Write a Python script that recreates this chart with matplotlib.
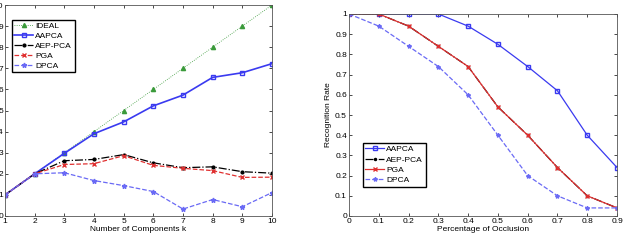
import numpy as np
import matplotlib
matplotlib.use("Agg")
import matplotlib.pyplot as plt

plt.rcParams['font.family'] = ['Liberation Sans', 'DejaVu Sans']
plt.rcParams['font.size'] = 6

# left panel: number of components
k = [1, 2, 3, 4, 5, 6, 7, 8, 9, 10]
ideal = [1, 2, 3, 4, 5, 6, 7, 8, 9, 10]
aapca_k = [1, 2, 2.97, 3.9, 4.46, 5.22, 5.73, 6.57, 6.79, 7.22]
aeppca_k = [1, 2, 2.62, 2.68, 2.91, 2.52, 2.29, 2.33, 2.1, 2.03]
pga_k = [1, 2, 2.44, 2.48, 2.86, 2.4, 2.26, 2.15, 1.83, 1.84]
dpca_k = [1, 2, 2.05, 1.68, 1.44, 1.16, 0.33, 0.78, 0.44, 1.11]

# right panel: percentage of occlusion
occ = [0, 0.1, 0.2, 0.3, 0.4, 0.5, 0.6, 0.7, 0.8, 0.9]
aapca_o = [1, 1, 1, 1, 0.94, 0.85, 0.74, 0.62, 0.40, 0.24]
aeppca_o = [1, 1, 0.94, 0.84, 0.74, 0.54, 0.40, 0.24, 0.10, 0.04]
pga_o = [1, 1, 0.94, 0.84, 0.74, 0.54, 0.40, 0.24, 0.10, 0.04]
dpca_o = [1, 0.94, 0.84, 0.74, 0.60, 0.40, 0.20, 0.10, 0.04, 0.04]

blue = '#3a3af0'
lblue = '#6a6af5'
green = '#3a9a3a'
red = '#e03030'

fig = plt.figure(figsize=(6.29, 2.4), dpi=100)
ax1 = fig.add_axes([5/629, 1 - 216/240, 267/629, 211/240])
ax2 = fig.add_axes([349/629, 1 - 216/240, 268/629, 202/240])

ax1.plot(k, ideal, ':', color=green, lw=0.6, marker='^', ms=3, label='IDEAL')
ax1.plot(k, aapca_k, '-', color=blue, lw=1.2, marker='s', ms=3.5, mfc='none', label='AAPCA')
ax1.plot(k, aeppca_k, '-.', color='black', lw=0.9, marker='.', ms=4, label='AEP-PCA')
ax1.plot(k, pga_k, '--', color=red, lw=0.9, marker='x', ms=3, label='PGA')
ax1.plot(k, dpca_k, '--', color=lblue, lw=0.9, marker='*', ms=3.5, label='DPCA')
ax1.set_xlim(1, 10)
ax1.set_ylim(0, 10)
ax1.set_xticks(k)
ax1.set_yticks(range(0, 11))
ax1.set_xlabel('Number of Components k', labelpad=1)
ax1.legend(loc='upper left', bbox_to_anchor=(0.026, 0.929), borderaxespad=0,
           fancybox=False, edgecolor='black', framealpha=1, handlelength=2.2,
           borderpad=0.3, labelspacing=0.25, handletextpad=0.3, fontsize=6)

ax2.plot(occ, aapca_o, '-', color=blue, lw=0.9, marker='s', ms=3, mfc='none', label='AAPCA')
ax2.plot(occ, aeppca_o, '-.', color='black', lw=0.9, marker='.', ms=3, label='AEP-PCA')
ax2.plot(occ, pga_o, '-', color=red, lw=0.9, marker='x', ms=2.5, label='PGA')
ax2.plot(occ, dpca_o, '--', color=lblue, lw=0.9, marker='*', ms=3, label='DPCA')
ax2.set_xlim(0, 0.9)
ax2.set_ylim(0, 1)
ax2.set_xticks(occ)
ax2.set_xticklabels(['0', '0.1', '0.2', '0.3', '0.4', '0.5', '0.6', '0.7', '0.8', '0.9'])
ax2.set_yticks(np.arange(0, 11) / 10)
ax2.set_yticklabels(['0', '0.1', '0.2', '0.3', '0.4', '0.5', '0.6', '0.7', '0.8', '0.9', '1'])
ax2.set_xlabel('Percentage of Occlusion', labelpad=1)
ax2.set_ylabel('Recognition Rate', labelpad=2)
ax2.legend(loc='lower left', bbox_to_anchor=(0.052, 0.144), borderaxespad=0,
           fancybox=False, edgecolor='black', framealpha=1, handlelength=2.2,
           borderpad=0.3, labelspacing=0.3, handletextpad=0.3, fontsize=6)

for ax in (ax1, ax2):
    ax.tick_params(direction='in', top=True, right=True, length=2.5, width=0.5, pad=1.5)
    for s in ax.spines.values():
        s.set_linewidth(0.6)
        s.set_color('#555555')

fig.savefig('out.png', dpi=100)
